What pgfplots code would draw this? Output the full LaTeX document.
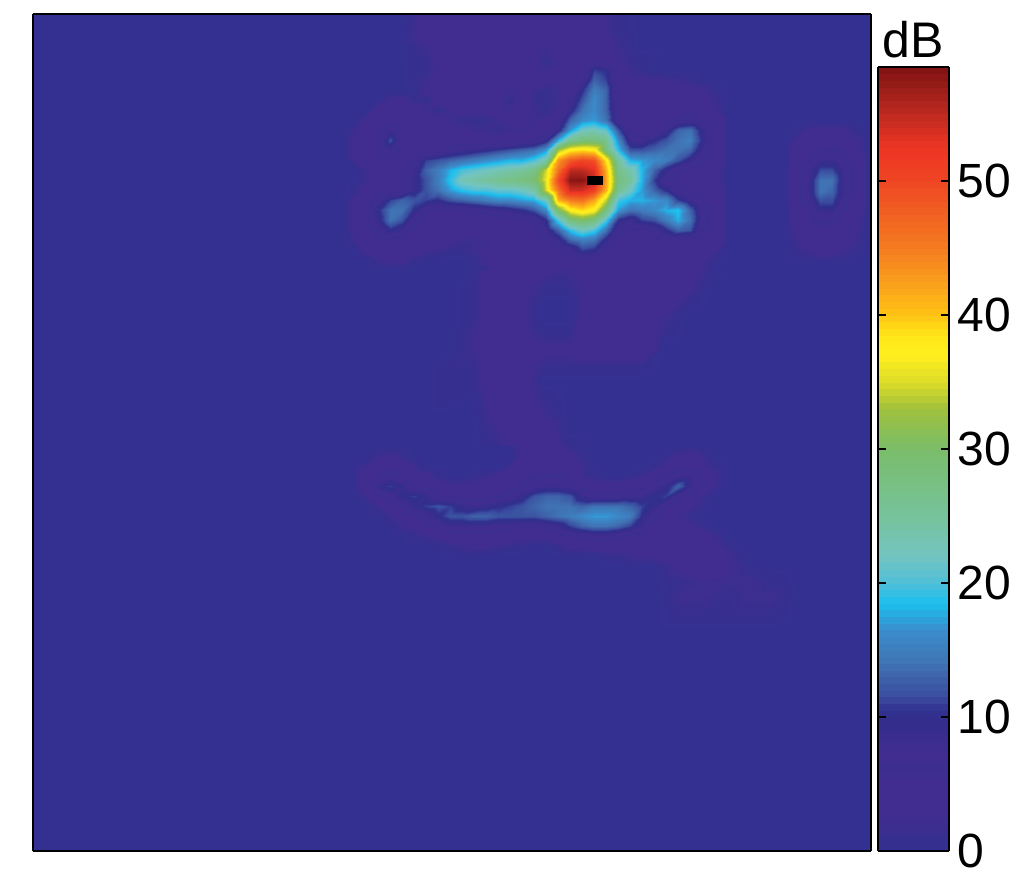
\documentclass[border=0pt]{standalone}
\usepackage{pgfplots}
\pgfplotsset{compat=1.18}
\usepackage{fontspec}
\setmainfont{Liberation Sans}
\pgfplotsset{
  colormap={dbmap}{
    rgb255(0pt)=(52,48,145); rgb255(10pt)=(54,47,144); rgb255(25pt)=(64,45,143); rgb255(52pt)=(65,45,143);
    rgb255(60pt)=(59,46,144); rgb255(72pt)=(65,45,143); rgb255(85pt)=(57,45,143);
    rgb255(100pt)=(50,46,140); rgb255(105pt)=(50,50,145); rgb255(115pt)=(58,76,158); rgb255(140pt)=(64,115,180);
    rgb255(165pt)=(58,142,205); rgb255(185pt)=(27,191,238); rgb255(200pt)=(80,191,216); rgb255(220pt)=(115,196,192);
    rgb255(250pt)=(118,195,155); rgb255(300pt)=(122,189,106); rgb255(330pt)=(160,193,60); rgb255(350pt)=(220,220,40);
    rgb255(370pt)=(255,240,31); rgb255(385pt)=(255,230,25); rgb255(400pt)=(255,196,20); rgb255(420pt)=(251,165,28);
    rgb255(450pt)=(244,124,32); rgb255(500pt)=(239,70,35); rgb255(525pt)=(237,53,36); rgb255(550pt)=(190,42,32);
    rgb255(585pt)=(127,18,18)
  }
}
\begin{document}
\begin{tikzpicture}
\useasboundingbox (0,0) rectangle (508pt,447.5pt);
\begin{axis}[
  at={(16.5pt,22pt)}, anchor=south west,
  scale only axis, width=419pt, height=418.5pt,
  xmin=33, xmax=871, ymin=14, ymax=851, y dir=reverse,
  view={0}{90}, xtick=\empty, ytick=\empty, ztick=\empty,
  axis on top, axis line style={line width=0.8pt},
  axis background/.style={fill={rgb,255:red,52;green,48;blue,145}},
  colormap name=dbmap, point meta min=0, point meta max=58.5,
  colorbar sampled,
  colorbar style={
    samples=118,
    at={(1.00835,0)}, anchor=south west,
    scale only axis, width=35.5pt, height=392pt,
    ytick={0,10,20,30,40,50}, ytick align=inside, ytick pos=both, yticklabel pos=right,
    major tick length=4pt, tick style={line width=0.8pt, black},
    axis line style={line width=1pt},
    yticklabel style={font=\fontsize{24}{28}\selectfont, /pgf/number format/assume math mode=true, xshift=1pt},
    title={dB}, title style={font=\fontsize{25}{29}\selectfont, yshift=-5pt},
  },
]
% top faint structures
\addplot3[surf,shader=interp,mesh/cols=15] table[row sep=crcr,header=false,x expr={400+24*mod(\coordindex,15)},y expr={14+16*floor(\coordindex/15)},z index=0]{
0\\3\\5\\4\\3\\4\\4\\4\\3\\1\\0\\0\\0\\0\\0\\
0\\4\\5\\5\\4\\5\\4\\5\\4\\1\\0\\0\\0\\0\\0\\
0\\2\\5\\5\\4\\5\\2\\5\\5\\2\\0\\0\\0\\0\\0\\
0\\1\\4\\5\\4\\5\\1\\4\\5\\3\\1\\0\\0\\0\\0\\
};
% middle streak
\addplot3[surf,shader=interp,mesh/cols=15] table[row sep=crcr,header=false,x expr={400+24*mod(\coordindex,15)},y expr={270+16*floor(\coordindex/15)},z index=0]{
0\\0\\0\\0\\5\\4\\3\\2\\4\\4\\5\\5\\4\\1\\0\\
0\\0\\0\\1\\5\\4\\1\\1\\4\\5\\5\\5\\3\\0\\0\\
0\\0\\0\\1\\5\\3\\0\\0\\4\\5\\5\\4\\1\\0\\0\\
0\\0\\0\\1\\5\\3\\0\\0\\5\\3\\5\\2\\0\\0\\0\\
0\\0\\0\\2\\5\\3\\1\\1\\5\\2\\5\\1\\0\\0\\0\\
0\\0\\0\\2\\5\\4\\3\\3\\5\\5\\5\\0\\0\\0\\0\\
0\\0\\1\\1\\5\\4\\1\\1\\1\\1\\1\\0\\0\\0\\0\\
0\\0\\1\\1\\5\\4\\0\\0\\0\\0\\0\\0\\0\\0\\0\\
0\\0\\1\\0\\4\\5\\1\\0\\0\\0\\0\\0\\0\\0\\0\\
0\\0\\0\\0\\3\\5\\2\\0\\0\\0\\0\\0\\0\\0\\0\\
0\\0\\0\\0\\2\\5\\4\\0\\0\\0\\0\\0\\0\\0\\0\\
0\\0\\0\\0\\1\\5\\5\\1\\0\\0\\0\\0\\0\\0\\0\\
0\\0\\0\\0\\0\\4\\5\\3\\1\\0\\0\\0\\0\\0\\0\\
};
% lower right faint
\addplot3[surf,shader=interp,mesh/cols=7] table[row sep=crcr,header=false,x expr={654+24*mod(\coordindex,7)},y expr={566+16*floor(\coordindex/7)},z index=0]{
0\\3\\4\\3\\1\\0\\0\\
0\\1\\2\\2\\2\\1\\0\\
0\\2\\2\\1\\2\\2\\0\\
0\\1\\1\\1\\1\\1\\0\\
0\\0\\0\\0\\0\\0\\0\\
};
% lower band
\addplot3[surf,shader=interp,mesh/cols=35] table[row sep=crcr,header=false,x expr={354+12*mod(\coordindex,35)},y expr={446+10*floor(\coordindex/35)},z index=0]{
0\\0\\0\\0\\0\\0\\0\\0\\0\\0\\0\\0\\0\\0\\4\\5\\5\\3\\1\\0\\0\\0\\0\\0\\0\\0\\0\\0\\0\\0\\0\\0\\0\\0\\0\\
0\\0\\2\\3\\1\\0\\0\\0\\0\\0\\0\\0\\0\\0\\3\\5\\5\\5\\3\\1\\0\\0\\0\\0\\0\\0\\1\\3\\4\\2\\0\\0\\0\\0\\0\\
0\\2\\4\\5\\4\\2\\0\\0\\0\\0\\0\\0\\0\\2\\5\\5\\5\\5\\5\\2\\0\\0\\0\\0\\0\\1\\3\\5\\5\\3\\1\\0\\0\\0\\0\\
1\\4\\6\\7\\5\\4\\3\\1\\0\\0\\1\\2\\3\\5\\5\\6\\6\\6\\5\\2\\1\\0\\0\\1\\2\\4\\6\\8\\8\\5\\3\\0\\0\\0\\0\\
1\\4\\9\\11\\9\\6\\5\\4\\3\\3\\3\\3\\4\\5\\6\\7\\8\\8\\7\\5\\4\\4\\4\\4\\5\\7\\9\\13\\9\\5\\2\\0\\0\\0\\0\\
0\\2\\5\\7\\10\\11\\9\\6\\5\\5\\5\\5\\6\\7\\9\\12\\13\\13\\12\\8\\7\\7\\7\\8\\8\\10\\11\\7\\5\\2\\0\\0\\0\\0\\0\\
0\\0\\2\\4\\6\\9\\11\\12\\11\\9\\8\\9\\10\\11\\12\\13\\14\\14\\14\\13\\14\\14\\14\\13\\11\\9\\6\\4\\3\\1\\0\\0\\0\\0\\0\\
0\\0\\0\\2\\4\\5\\7\\10\\12\\12\\13\\13\\12\\12\\12\\12\\13\\14\\15\\16\\17\\17\\16\\15\\10\\6\\4\\2\\1\\0\\0\\0\\0\\0\\0\\
0\\0\\0\\0\\2\\3\\5\\6\\8\\8\\8\\8\\7\\7\\6\\6\\7\\8\\11\\13\\14\\14\\13\\11\\8\\5\\4\\4\\3\\1\\0\\0\\0\\0\\0\\
0\\0\\0\\0\\0\\1\\2\\3\\5\\5\\5\\5\\4\\4\\3\\3\\3\\5\\5\\6\\7\\7\\6\\5\\5\\5\\5\\5\\5\\4\\2\\0\\0\\0\\0\\
0\\0\\0\\0\\0\\0\\0\\0\\1\\2\\3\\3\\2\\1\\1\\0\\0\\1\\3\\3\\4\\4\\4\\4\\4\\5\\5\\5\\5\\5\\4\\1\\0\\0\\0\\
0\\0\\0\\0\\0\\0\\0\\0\\0\\0\\0\\0\\0\\0\\0\\0\\0\\0\\0\\0\\0\\1\\1\\2\\3\\3\\5\\5\\5\\5\\5\\3\\1\\0\\0\\
0\\0\\0\\0\\0\\0\\0\\0\\0\\0\\0\\0\\0\\0\\0\\0\\0\\0\\0\\0\\0\\0\\0\\0\\0\\0\\1\\3\\3\\4\\4\\3\\2\\0\\0\\
};
% right blob
\addplot3[surf,shader=interp,mesh/cols=8] table[row sep=crcr,header=false,x expr={784+12*mod(\coordindex,8)},y expr={120+12*floor(\coordindex/8)},z index=0]{
0\\0\\0\\0\\0\\0\\0\\0\\
0\\1\\3\\4\\4\\3\\1\\0\\
0\\3\\5\\5\\5\\5\\3\\0\\
0\\4\\5\\7\\7\\5\\4\\1\\
0\\5\\7\\11\\11\\7\\5\\1\\
0\\5\\8\\14\\14\\8\\5\\1\\
0\\5\\8\\14\\13\\8\\5\\1\\
0\\5\\6\\11\\11\\6\\5\\1\\
0\\4\\5\\7\\7\\5\\4\\0\\
0\\3\\5\\5\\5\\5\\3\\0\\
0\\2\\4\\5\\5\\4\\2\\0\\
0\\1\\2\\3\\3\\2\\1\\0\\
0\\0\\0\\0\\0\\0\\0\\0\\
};
% star
\addplot3[surf,shader=interp,mesh/cols=33] table[row sep=crcr,header=false,x expr={342+12*mod(\coordindex,33)},y expr={60+10*floor(\coordindex/33)},z index=0]{
0\\0\\0\\0\\0\\0\\1\\1\\3\\4\\5\\5\\5\\4\\4\\5\\3\\1\\2\\4\\4\\5\\4\\2\\1\\0\\0\\0\\0\\0\\0\\0\\0\\
0\\0\\0\\0\\0\\0\\1\\1\\3\\4\\5\\5\\5\\4\\4\\5\\3\\2\\3\\4\\5\\11\\10\\4\\2\\1\\0\\0\\0\\0\\0\\0\\0\\
0\\0\\0\\0\\0\\0\\1\\2\\3\\4\\5\\5\\5\\4\\4\\5\\3\\3\\3\\4\\6\\13\\11\\4\\3\\3\\3\\2\\2\\1\\0\\0\\0\\
0\\0\\0\\0\\0\\0\\0\\3\\4\\5\\4\\3\\2\\4\\6\\3\\2\\1\\2\\4\\10\\15\\13\\4\\3\\5\\5\\5\\5\\4\\3\\1\\0\\
0\\0\\0\\0\\3\\3\\1\\1\\3\\4\\4\\3\\3\\5\\10\\5\\1\\1\\2\\7\\12\\16\\13\\5\\3\\5\\5\\5\\5\\5\\4\\2\\0\\
0\\0\\0\\4\\5\\5\\4\\2\\1\\2\\3\\3\\3\\4\\6\\4\\2\\1\\3\\9\\14\\16\\13\\6\\3\\4\\5\\5\\5\\5\\5\\3\\0\\
0\\0\\3\\5\\5\\5\\5\\4\\3\\2\\1\\1\\1\\2\\3\\3\\2\\3\\6\\13\\16\\17\\14\\6\\3\\3\\4\\5\\6\\7\\5\\5\\2\\
0\\2\\5\\5\\8\\5\\5\\5\\5\\4\\3\\2\\2\\1\\2\\2\\3\\5\\9\\17\\22\\23\\21\\12\\5\\3\\4\\8\\13\\14\\9\\5\\3\\
0\\3\\5\\5\\12\\5\\5\\5\\5\\5\\5\\4\\4\\4\\4\\5\\6\\9\\18\\26\\28\\28\\26\\16\\8\\7\\10\\12\\14\\15\\10\\5\\3\\
0\\3\\5\\5\\8\\5\\5\\4\\4\\7\\8\\9\\10\\11\\12\\13\\14\\17\\33\\38\\39\\38\\28\\19\\12\\12\\13\\14\\14\\13\\8\\5\\3\\
0\\2\\5\\5\\5\\5\\6\\11\\12\\13\\14\\15\\16\\17\\18\\18\\20\\24\\43\\48\\50\\49\\38\\25\\18\\17\\16\\15\\12\\9\\6\\5\\2\\
0\\0\\2\\4\\5\\5\\8\\13\\15\\18\\20\\21\\22\\23\\24\\25\\27\\35\\46\\55\\55\\53\\41\\27\\24\\18\\13\\9\\6\\5\\5\\4\\1\\
0\\0\\2\\4\\5\\5\\9\\12\\15\\19\\23\\24\\25\\26\\27\\28\\29\\36\\50\\58\\58\\55\\42\\28\\25\\18\\11\\6\\5\\5\\5\\3\\1\\
0\\1\\4\\5\\5\\5\\9\\12\\14\\17\\19\\20\\20\\21\\21\\22\\24\\35\\46\\54\\54\\51\\41\\26\\22\\17\\13\\10\\6\\5\\5\\4\\2\\
0\\3\\5\\7\\11\\13\\12\\11\\10\\12\\13\\14\\15\\16\\16\\17\\18\\22\\41\\45\\46\\42\\34\\20\\18\\18\\17\\16\\11\\8\\5\\5\\2\\
0\\3\\5\\10\\14\\14\\10\\6\\5\\5\\5\\6\\7\\8\\9\\10\\12\\16\\30\\37\\39\\37\\28\\17\\14\\15\\16\\18\\19\\13\\7\\5\\3\\
0\\3\\5\\9\\14\\12\\6\\5\\5\\5\\4\\4\\4\\4\\5\\5\\6\\10\\20\\28\\30\\28\\20\\10\\8\\11\\12\\15\\18\\14\\7\\5\\3\\
0\\3\\5\\6\\10\\8\\5\\5\\5\\4\\3\\3\\3\\3\\3\\4\\5\\8\\13\\19\\22\\20\\14\\7\\5\\5\\6\\10\\13\\12\\6\\5\\3\\
0\\2\\5\\5\\5\\5\\5\\5\\4\\3\\2\\2\\2\\3\\4\\4\\4\\5\\8\\13\\15\\14\\9\\5\\4\\4\\5\\5\\5\\5\\5\\5\\2\\
0\\0\\3\\5\\5\\5\\4\\3\\2\\1\\1\\2\\3\\4\\5\\4\\4\\4\\5\\7\\11\\10\\5\\4\\5\\5\\5\\5\\5\\5\\5\\3\\0\\
0\\0\\0\\2\\3\\3\\1\\0\\0\\0\\0\\1\\3\\5\\5\\4\\3\\2\\4\\4\\5\\5\\4\\4\\5\\5\\5\\5\\5\\5\\3\\1\\0\\
0\\0\\0\\0\\0\\0\\0\\0\\0\\0\\0\\0\\1\\5\\5\\4\\3\\2\\2\\2\\3\\4\\4\\4\\5\\5\\5\\5\\5\\4\\2\\0\\0\\
};
% black marker
\addplot3[black,line width=4.5pt,no marks] coordinates {(587,180.5,60) (603,180.5,60)};
\end{axis}
\end{tikzpicture}
\end{document}
